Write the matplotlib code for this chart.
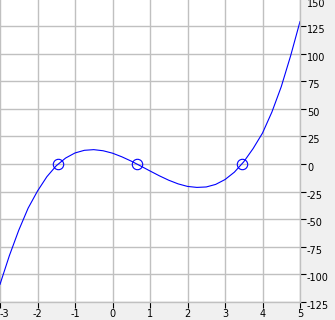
import matplotlib.pyplot as plt
import matplotlib.transforms as mtransforms

plt.rcParams['axes.unicode_minus'] = False

# points
x_vals = [-3, -2.75, -2.5, -2.25, -2, -1.75, -1.5, -1.25, -1, -0.75, -0.5, -0.25,
          0, 0.25, 0.5, 0.75, 1, 1.25, 1.5, 1.75, 2, 2.25, 2.5, 2.75,
          3, 3.25, 3.5, 3.75, 4, 4.25, 4.5, 4.75, 5]
y_vals = [-109, -83, -60, -40, -24.5, -11.5, -1.6, 5.4, 10, 12.4, 13, 12,
          9.8, 6.5, 2.6, -1.8, -6.3, -10.7, -14.7, -18, -20.3, -21.2, -20.8, -18.5,
          -14.1, -7.4, 2, 14, 28, 47, 70, 98, 129]

# roots marked with circles
root_x = [-1.45, 0.65, 3.45]
root_y = [0, 0, 0]

x_ticks = [-3, -2, -1, 0, 1, 2, 3, 4, 5]
y_ticks = [-125, -100, -75, -50, -25, 0, 25, 50, 75, 100, 125, 150]

fig = plt.figure(figsize=(3.35, 3.2), dpi=100, facecolor='#f0f0f0')
ax = fig.add_axes([0.0, 1 - 302 / 320, 300 / 335, 303.6 / 320])
ax.set_facecolor('white')

ax.plot(x_vals, y_vals, color='#0000ff', linewidth=0.8)
ax.plot(root_x, root_y, 'o', markerfacecolor='none', markeredgecolor='#0000ff',
        markersize=7.5, markeredgewidth=0.8)

ax.set_xlim(-3, 5)
ax.set_ylim(-125, 150)
ax.set_xticks(x_ticks)
ax.set_yticks(y_ticks)
ax.grid(True, color='#c0c0c0', linewidth=1)

for s in ['left', 'top']:
    ax.spines[s].set_visible(False)
for s in ['right', 'bottom']:
    ax.spines[s].set_color('#c0c0c0')
    ax.spines[s].set_linewidth(1)

ax.yaxis.tick_right()
ax.tick_params(axis='both', labelsize=7, length=4, width=0.8, color='#000000', pad=1)

fig.canvas.draw()

# y labels sit just below their tick, top one pushed in so it is not cut
ylabels = ax.get_yticklabels()
for i, lbl in enumerate(ylabels):
    dy = -3 if i < len(ylabels) - 1 else -5
    off = mtransforms.ScaledTranslation(0, dy / 100, fig.dpi_scale_trans)
    lbl.set_transform(lbl.get_transform() + off)

# first x label kept inside the figure
xl = ax.get_xticklabels()
xl[0].set_horizontalalignment('left')

fig.savefig('out.png', dpi=100, facecolor=fig.get_facecolor())
